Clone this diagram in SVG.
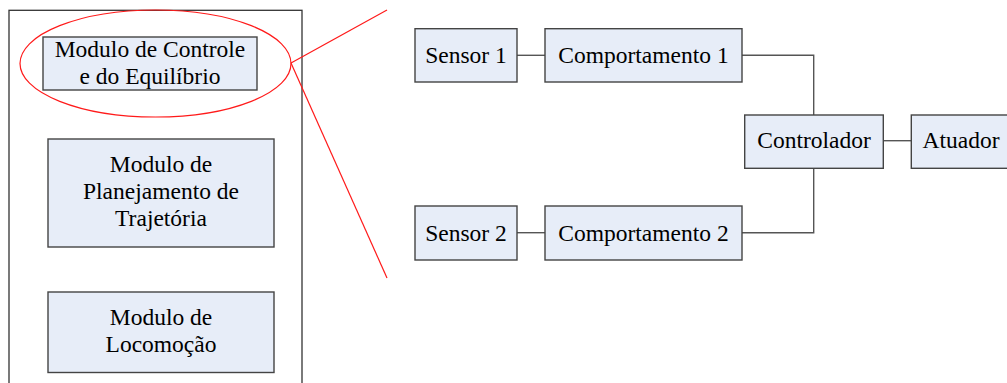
<svg xmlns="http://www.w3.org/2000/svg" width="1007" height="383" viewBox="0 0 1007 383">
<style>
.box{fill:#e7edf8;stroke:#444;stroke-width:1.4}
.t{font-family:"Liberation Serif","Times New Roman",serif;font-size:23.5px;fill:#000;text-anchor:middle}
.conn{fill:none;stroke:#555;stroke-width:1.4}
.red{fill:none;stroke:#ff1a1a;stroke-width:1.2}
</style>
<rect width="1007" height="383" fill="#fff"/>
<g id="container">
<rect x="9" y="10.3" width="293" height="400" fill="none" stroke="#333" stroke-width="1.3"/>
</g>
<g id="mod-controle">
<rect class="box" x="43" y="37" width="214" height="53" stroke-width="1.8"/>
<text class="t" x="150" y="57.3">Modulo de Controle</text>
<text class="t" x="150" y="83.8">e do Equilíbrio</text>
</g>
<g id="mod-planejamento">
<rect class="box" x="48" y="139" width="226" height="108"/>
<text class="t" x="161" y="172.3">Modulo de</text>
<text class="t" x="161" y="199.3">Planejamento de</text>
<text class="t" x="161" y="226.3">Trajetória</text>
</g>
<g id="mod-locomocao">
<rect class="box" x="48" y="292" width="226" height="80.5"/>
<text class="t" x="161" y="325.3">Modulo de</text>
<text class="t" x="161" y="352.3">Locomoção</text>
</g>
<g id="zoom-callout">
<ellipse class="red" cx="155.5" cy="63.5" rx="135.5" ry="53.5"/>
<line class="red" x1="291" y1="63" x2="387" y2="10"/>
<line class="red" x1="291" y1="63" x2="387" y2="278"/>
</g>
<g id="connectors">
<line class="conn" x1="517" y1="55.3" x2="545" y2="55.3"/>
<line class="conn" x1="517" y1="232.7" x2="545" y2="232.7"/>
<polyline class="conn" points="742,55.3 813.7,55.3 813.7,115"/>
<polyline class="conn" points="813.7,168.3 813.7,232.7 742,232.7"/>
<line class="conn" x1="883.3" y1="140.7" x2="911.3" y2="140.7"/>
</g>
<g id="sensor1">
<rect class="box" x="415" y="28.7" width="102" height="53.3"/>
<text class="t" x="466" y="63">Sensor 1</text>
</g>
<g id="comportamento1">
<rect class="box" x="545" y="28.7" width="197" height="53.3"/>
<text class="t" x="643.5" y="63">Comportamento 1</text>
</g>
<g id="sensor2">
<rect class="box" x="415" y="206" width="102" height="54"/>
<text class="t" x="466" y="240.7">Sensor 2</text>
</g>
<g id="comportamento2">
<rect class="box" x="545" y="206" width="197" height="54"/>
<text class="t" x="643.5" y="240.7">Comportamento 2</text>
</g>
<g id="controlador">
<rect class="box" x="744.7" y="115" width="138.6" height="53.3"/>
<text class="t" x="814" y="148.3">Controlador</text>
</g>
<g id="atuador">
<rect class="box" x="911.3" y="115" width="100" height="53.3"/>
<text class="t" x="961" y="148.3">Atuador</text>
</g>
</svg>
